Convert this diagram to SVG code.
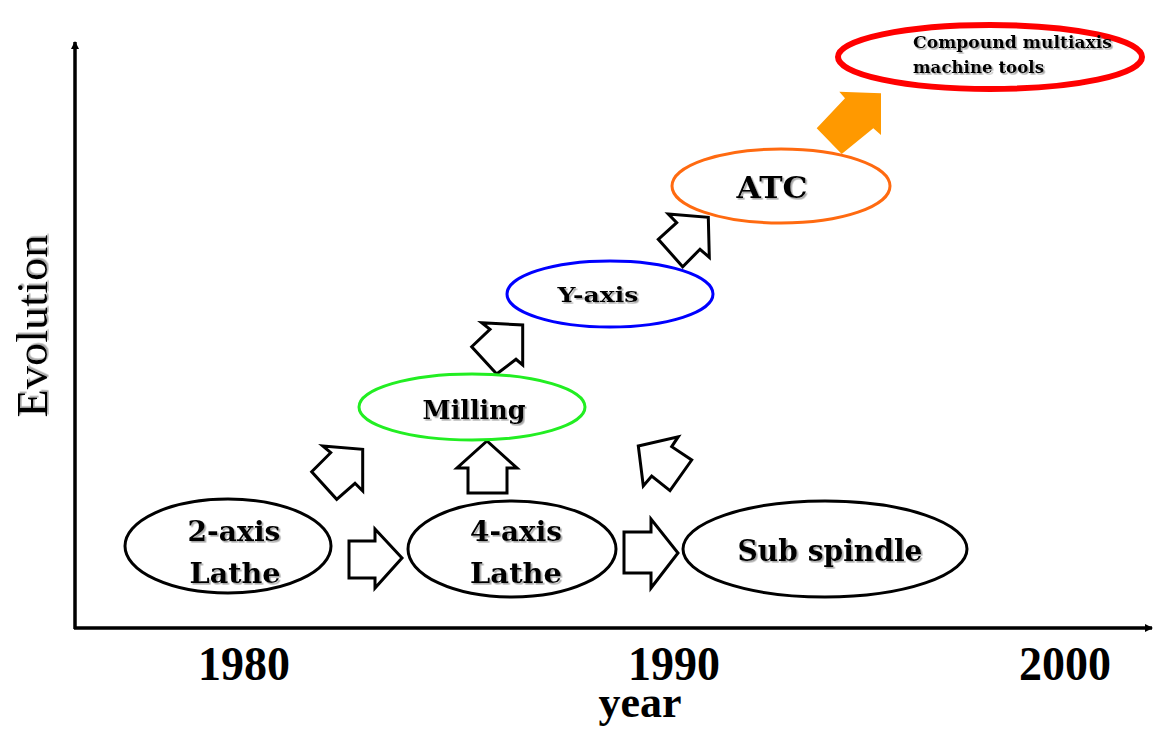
<svg xmlns="http://www.w3.org/2000/svg" width="1160" height="733" viewBox="0 0 1160 733">
<defs>
<filter id="sh" x="-10%" y="-20%" width="130%" height="150%">
<feDropShadow dx="1.6" dy="1.6" stdDeviation="0.6" flood-color="#808080" flood-opacity="0.7"/>
</filter>
<marker id="ah" markerWidth="10" markerHeight="10" refX="7" refY="5" orient="auto" markerUnits="userSpaceOnUse">
<path d="M0,1 L8,5 L0,9 Z" fill="#000"/>
</marker>
</defs>
<style>
.lbl{font-family:"DejaVu Serif","Liberation Serif",serif;font-weight:bold;fill:#000;text-anchor:middle;filter:url(#sh)}
.yr{font-family:"Liberation Serif",serif;font-weight:bold;fill:#000;text-anchor:middle;font-size:48px}
.node{fill:#fff;stroke-width:3}
.blk{fill:#fff;stroke:#000;stroke-width:3;stroke-linejoin:miter}
</style>
<rect width="1160" height="733" fill="#fff"/>

<g id="axes">
<line x1="75" y1="629" x2="75" y2="42" stroke="#000" stroke-width="3.5" marker-end="url(#ah)"/>
<line x1="74" y1="628" x2="1152" y2="628" stroke="#000" stroke-width="3.5" marker-end="url(#ah)"/>
<text class="yr" x="244" y="680" textLength="92" lengthAdjust="spacingAndGlyphs">1980</text>
<text class="yr" x="674" y="680" textLength="92" lengthAdjust="spacingAndGlyphs">1990</text>
<text class="yr" x="1065" y="680" textLength="92" lengthAdjust="spacingAndGlyphs">2000</text>
<text class="yr" x="640" y="717" font-size="44px" style="font-size:44px">year</text>
<text transform="translate(47,326) rotate(-90)" font-family="Liberation Serif, serif" font-size="45" text-anchor="middle" textLength="183" lengthAdjust="spacingAndGlyphs" filter="url(#sh)">Evolution</text>
</g>

<g id="connectors">
<polygon class="blk" points="349,541 375,541 375,529 402,558 375,588 375,578 349,578"/>
<polygon class="blk" points="624,532 651,532 651,519 678,553 651,588 651,573 624,573"/>
<polygon class="blk" points="468,493 468,468 457,468 487,441 517,468 507,468 507,493"/>
<polygon class="blk" points="322.7,446 362.7,449.3 362.7,491 355,483.3 336.7,499.3 311.7,471.7 330.7,452.7"/>
<polygon class="blk" points="481.7,322.7 522.7,325 522.7,365 516,359.3 496.7,374 471.7,346.7 490,329.3"/>
<polygon class="blk" points="668.3,214 708.3,217.3 709.3,257.3 700,249.3 682.7,266.7 658.3,239.3 676.7,222.7"/>
<polygon class="blk" points="638.3,446 678.3,436.7 671.7,446.7 691.7,460 670,490.7 651.7,476 643.3,486"/>
<polygon points="839.3,91.7 881,93.3 881,135 873.3,128.3 841.7,154 816.7,128.3 845,98.3" fill="#ff9900"/>
</g>

<g id="n2axis">
<ellipse class="node" cx="228" cy="546" rx="103" ry="47" stroke="#000"/>
<text class="lbl" x="234" y="541" font-size="28" textLength="93" lengthAdjust="spacingAndGlyphs">2-axis</text>
<text class="lbl" x="235" y="583" font-size="28" textLength="91" lengthAdjust="spacingAndGlyphs">Lathe</text>
</g>

<g id="n4axis">
<ellipse class="node" cx="512" cy="549" rx="104" ry="48" stroke="#000"/>
<text class="lbl" x="516" y="541" font-size="28" textLength="92" lengthAdjust="spacingAndGlyphs">4-axis</text>
<text class="lbl" x="516" y="583" font-size="28" textLength="92" lengthAdjust="spacingAndGlyphs">Lathe</text>
</g>

<g id="nsub">
<ellipse class="node" cx="825" cy="549" rx="142" ry="48" stroke="#000"/>
<text class="lbl" x="830" y="561" font-size="29" textLength="185" lengthAdjust="spacingAndGlyphs">Sub spindle</text>
</g>

<g id="nmilling">
<ellipse class="node" cx="472" cy="407" rx="113" ry="33" stroke="#22ee22"/>
<text class="lbl" x="474" y="419" font-size="26" textLength="103" lengthAdjust="spacingAndGlyphs">Milling</text>
</g>

<g id="nyaxis">
<ellipse class="node" cx="610" cy="294" rx="103" ry="33" stroke="#0000ff"/>
<text class="lbl" x="598" y="302" font-size="21" textLength="81" lengthAdjust="spacingAndGlyphs">Y-axis</text>
</g>

<g id="natc">
<ellipse class="node" cx="781" cy="186" rx="109" ry="37" stroke="#ff6a10"/>
<text class="lbl" x="772" y="198" font-size="29" textLength="71" lengthAdjust="spacingAndGlyphs">ATC</text>
</g>

<g id="ncompound">
<ellipse cx="990" cy="57" rx="152" ry="32" fill="#fff" stroke="#ff0000" stroke-width="6"/>
<text class="lbl" x="913" y="48" font-size="16" text-anchor="start" style="text-anchor:start" textLength="199" lengthAdjust="spacingAndGlyphs">Compound multiaxis</text>
<text class="lbl" x="913" y="73" font-size="16" text-anchor="start" style="text-anchor:start" textLength="131" lengthAdjust="spacingAndGlyphs">machine tools</text>
</g>
</svg>
